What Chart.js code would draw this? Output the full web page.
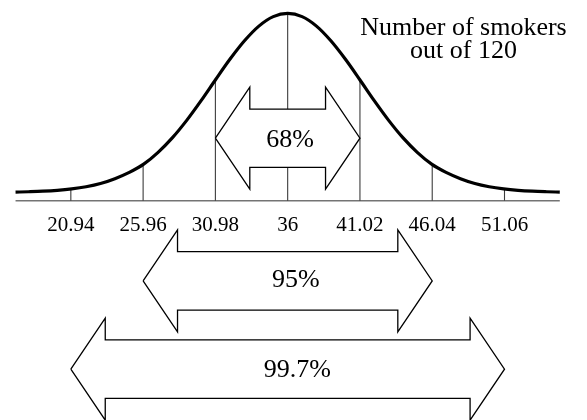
<!DOCTYPE html>
<html>
<head>
<meta charset="UTF-8">
<title>Number of smokers out of 120</title>
<script src="https://cdn.jsdelivr.net/npm/chart.js@4/dist/chart.umd.min.js"></script>
<style>
  body { margin: 0; background: #fff; }
  #wrap { width: 587px; height: 420px; position: relative; }
</style>
</head>
<body>
<div id="wrap"><canvas id="c"></canvas></div>
<script>
// curve (height relative to the peak)
const curveX = [17.1, 18, 19, 20, 21, 22, 23, 24, 25, 26, 27, 28, 29, 30, 31, 32, 33, 34, 35, 36,
                37, 38, 39, 40, 41, 42, 43, 44, 45, 46, 47, 48, 49, 50, 51, 52, 53, 54, 54.9];
const curveY = [0.002, 0.004, 0.007, 0.012, 0.020, 0.032, 0.050, 0.077, 0.112, 0.158, 0.224, 0.306, 0.404,
                0.514, 0.631, 0.745, 0.847, 0.929, 0.982, 1.000,
                0.982, 0.929, 0.847, 0.745, 0.631, 0.514, 0.404, 0.306, 0.224, 0.158, 0.112, 0.077,
                0.050, 0.032, 0.020, 0.012, 0.007, 0.004, 0.002];

// mean +/- k standard deviations
const sdPoints = [20.94, 25.96, 30.98, 36, 41.02, 46.04, 51.06];
const sdTops   = [0.019, 0.160, 0.628, 1.0, 0.628, 0.160, 0.019];
const tickLabels = ['20.94', '25.96', '30.98', '36', '41.02', '46.04', '51.06'];

// the three range arrows
const arrowFrom  = [30.98, 25.96, 20.94];
const arrowTo    = [41.02, 46.04, 51.06];
const arrowLevel = [0.303, -0.494, -0.987];
const arrowText  = ['68%', '95%', '99.7%'];
const arrowTextX = [36.16, 36.56, 36.67];
const arrowTextY = [0.256, -0.526, -1.032];

const titleLines = ['Number of smokers', 'out of 120'];

const AXIS_Y = -0.046;
const AXIS_FROM = 17.1, AXIS_TO = 54.9;
const HEAD = 2.39, HEAD_H = 0.285, SHAFT_H = 0.163;

function arrowShape(a, b, yc) {
    return [
        {x: a, y: yc},
        {x: a + HEAD, y: yc + HEAD_H},
        {x: a + HEAD, y: yc + SHAFT_H},
        {x: b - HEAD, y: yc + SHAFT_H},
        {x: b - HEAD, y: yc + HEAD_H},
        {x: b, y: yc},
        {x: b - HEAD, y: yc - HEAD_H},
        {x: b - HEAD, y: yc - SHAFT_H},
        {x: a + HEAD, y: yc - SHAFT_H},
        {x: a + HEAD, y: yc - HEAD_H},
        {x: a, y: yc}
    ];
}

const datasets = [];

arrowFrom.forEach((a, i) => {
    datasets.push({
        data: arrowShape(a, arrowTo[i], arrowLevel[i]),
        borderColor: '#000',
        borderWidth: 1.3,
        backgroundColor: '#fff',
        fill: 'shape',
        tension: 0,
        pointRadius: 0,
        order: 0
    });
});

datasets.push({
    data: curveX.map((x, i) => ({x: x, y: curveY[i]})),
    borderColor: '#000',
    borderWidth: 3.2,
    cubicInterpolationMode: 'monotone',
    pointRadius: 0,
    fill: false,
    order: 1
});

sdPoints.forEach((x, i) => {
    datasets.push({
        data: [{x: x, y: AXIS_Y}, {x: x, y: sdTops[i]}],
        borderColor: '#3c3c3c',
        borderWidth: 1.1,
        pointRadius: 0,
        fill: false,
        order: 2
    });
});

datasets.push({
    data: [{x: AXIS_FROM, y: AXIS_Y}, {x: AXIS_TO, y: AXIS_Y}],
    borderColor: '#747474',
    borderWidth: 1.6,
    pointRadius: 0,
    fill: false,
    order: 3
});

// texts placed with the chart's own scales
const textPlugin = {
    id: 'texts',
    afterDatasetsDraw(chart) {
        const ctx = chart.ctx;
        const xs = chart.scales.x, ys = chart.scales.y;
        ctx.save();
        ctx.fillStyle = '#000';
        ctx.textAlign = 'center';
        ctx.textBaseline = 'alphabetic';

        ctx.font = '21px "Liberation Serif", "Times New Roman", serif';
        tickLabels.forEach((t, i) => {
            ctx.fillText(t, xs.getPixelForValue(sdPoints[i]), ys.getPixelForValue(-0.215));
        });

        ctx.font = '26px "Liberation Serif", "Times New Roman", serif';
        arrowText.forEach((t, i) => {
            ctx.fillText(t, xs.getPixelForValue(arrowTextX[i]), ys.getPixelForValue(arrowTextY[i]));
        });

        ctx.fillText(titleLines[0], xs.getPixelForValue(48.21), ys.getPixelForValue(0.880));
        ctx.fillText(titleLines[1], xs.getPixelForValue(48.21), ys.getPixelForValue(0.750));
        ctx.restore();
    }
};

new Chart(document.getElementById('c'), {
    type: 'line',
    data: { datasets: datasets },
    options: {
        responsive: true,
        maintainAspectRatio: false,
        animation: false,
        events: [],
        layout: { padding: 0 },
        scales: {
            x: { type: 'linear', min: 16.02, max: 56.79, display: false },
            y: { type: 'linear', min: -1.271, max: 1.075, display: false }
        },
        plugins: {
            legend: { display: false },
            tooltip: { enabled: false },
            filler: { drawTime: 'beforeDatasetDraw' }
        }
    },
    plugins: [textPlugin]
});
</script>
</body>
</html>
